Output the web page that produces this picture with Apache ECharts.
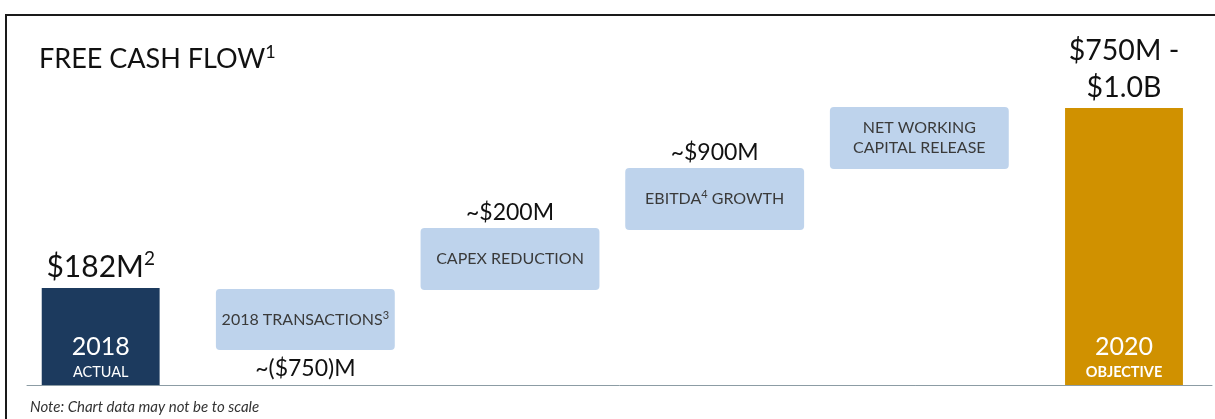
<!DOCTYPE html>
<html>
<head>
<meta charset="utf-8">
<script src="https://cdn.jsdelivr.net/npm/echarts@6/dist/echarts.min.js"></script>
<style>
  html, body { margin: 0; padding: 0; background: #ffffff; }
  #chart { width: 1215px; height: 419px; }
</style>
</head>
<body>
<div id="chart"></div>
<script>
// Free cash flow bridge, 2018 actual to 2020 objective (schematic, not to scale)
const steps = ['2018 ACTUAL', '2018 TRANSACTIONS', 'CAPEX REDUCTION', 'EBITDA GROWTH', 'NET WORKING CAPITAL RELEASE', '2020 OBJECTIVE'];
const kinds = ['total', 'decrease', 'increase', 'increase', 'increase', 'total'];
// schematic box extents in display units
const boxLow  = [0, 35, 95, 155, 216, 0];
const boxHigh = [97, 96, 157, 217, 278, 277];
// text drawn on and around each box
const boxText = ['', '2018 TRANSACTIONS{s|3}', 'CAPEX REDUCTION', 'EBITDA{s|4} GROWTH', 'NET WORKING\nCAPITAL RELEASE', ''];
const totalYear = ['2018', '', '', '', '', '2020'];
const totalSub = ['ACTUAL', '', '', '', '', 'OBJECTIVE'];
const valueLabels = ['$182M{p|2}', '~($750)M', '~$200M', '~$900M', '', '$750M -\n$1.0B'];

const FONT = 'Lato, "Open Sans", sans-serif';
const NAVY = '#1c3a5e';
const GOLD = '#d09100';
const PALE = '#bed3ec';

const data = steps.map((s, i) => [i, boxLow[i], boxHigh[i]]);

function renderItem(params, api) {
  const i = params.dataIndex;
  const x = api.value(0);
  const pLo = api.coord([x, api.value(1)]);
  const pHi = api.coord([x, api.value(2)]);
  const band = api.size([1, 0])[0];
  const isTotal = kinds[i] === 'total';
  const w = band * (isTotal ? 0.576 : 0.874);
  const left = pLo[0] - w / 2;
  const cx = pLo[0];
  const fill = isTotal ? (i === 0 ? NAVY : GOLD) : PALE;
  const children = [{
    type: 'rect',
    shape: { x: left, y: pHi[1], width: w, height: pLo[1] - pHi[1], r: isTotal ? 0 : 4 },
    style: { fill: fill }
  }];
  if (isTotal) {
    children.push({
      type: 'text',
      style: { x: cx, y: pLo[1] - 38, text: totalYear[i], fill: '#ffffff', font: '25px ' + FONT, align: 'center', verticalAlign: 'middle' }
    });
    children.push({
      type: 'text',
      style: { x: cx, y: pLo[1] - 13, text: totalSub[i], fill: '#ffffff', font: (i === 0 ? '' : 'bold ') + '14.5px ' + FONT, align: 'center', verticalAlign: 'middle' }
    });
  } else if (boxText[i]) {
    children.push({
      type: 'text',
      style: {
        x: cx, y: (pLo[1] + pHi[1]) / 2, text: boxText[i], fill: '#3a3a3a',
        font: '16px ' + FONT, align: 'center', verticalAlign: 'middle', lineHeight: 20,
        rich: { s: { fontSize: 11, verticalAlign: 'top', lineHeight: 14, fill: '#3a3a3a', fontFamily: FONT } }
      }
    });
  }
  if (valueLabels[i]) {
    const below = kinds[i] === 'decrease';
    const big = isTotal;
    const size = i === 0 ? 30 : (big ? 28.5 : 23);
    children.push({
      type: 'text',
      style: {
        x: cx, y: below ? pLo[1] + 5 : pHi[1] - 2, text: valueLabels[i], fill: '#111111',
        font: size + 'px ' + FONT, align: 'center', verticalAlign: below ? 'top' : 'bottom',
        lineHeight: big ? 37 : 27,
        rich: { p: { fontSize: 19, verticalAlign: 'top', lineHeight: 24, fill: '#111111', fontFamily: FONT } }
      }
    });
  }
  return { type: 'group', children: children };
}

const chart = echarts.init(document.getElementById('chart'), null, { renderer: 'canvas' });
chart.setOption({
  animation: false,
  backgroundColor: '#ffffff',
  title: {
    text: 'FREE CASH FLOW{s|1}',
    left: 34, top: 38,
    textStyle: {
      fontFamily: FONT, fontSize: 27, fontWeight: 'normal', color: '#111111', lineHeight: 32,
      rich: { s: { fontSize: 18, verticalAlign: 'top', lineHeight: 20, color: '#111111', fontFamily: FONT } }
    }
  },
  grid: { left: 27, right: 3, top: 85, bottom: 34, containLabel: false },
  xAxis: {
    type: 'value', min: -0.36, max: 5.43,
    axisLine: { show: true, lineStyle: { color: '#8c9ca4', width: 1 } },
    axisTick: { show: false }, axisLabel: { show: false }, splitLine: { show: false }
  },
  yAxis: {
    type: 'value', min: 0, max: 300,
    axisLine: { show: false }, axisTick: { show: false }, axisLabel: { show: false }, splitLine: { show: false }
  },
  series: [{
    type: 'custom',
    renderItem: renderItem,
    data: data,
    clip: false
  }],
  graphic: [
    {
      type: 'polyline',
      shape: { points: [[6, 419], [6, 15], [1215, 15]] },
      style: { stroke: '#1a1a1a', lineWidth: 2, fill: null }
    },
    {
      type: 'text', left: 30, top: 400,
      style: { text: 'Note: Chart data may not be to scale', font: 'italic 15px ' + FONT, fill: '#333333' }
    }
  ]
});
</script>
</body>
</html>
